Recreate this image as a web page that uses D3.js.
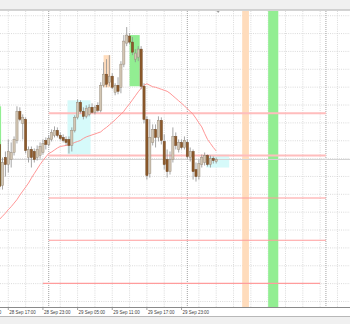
<!DOCTYPE html>
<html><head><meta charset="utf-8">
<script src="https://cdn.jsdelivr.net/npm/d3@7"></script>
<style>html,body{margin:0;padding:0;background:#fff;overflow:hidden}svg{display:block}</style>
</head><body>
<svg id="c" width="350" height="324"></svg>
<script>
// ---- data (M30 bars) ----
const barStart = "2020-09-28T15:30";
const barMinutes = 30;
const open = [1.2165,1.2124,1.2152,1.2145,1.2150,1.2157,1.2169,1.2198,1.2186,1.2190,
 1.2152,1.2160,1.2158,1.2152,1.2154,1.2157,1.2169,1.2165,1.2170,1.2174,
 1.2179,1.2174,1.2172,1.2170,1.2170,1.2164,1.2179,1.2192,1.2207,1.2198,
 1.2193,1.2195,1.2202,1.2197,1.2204,1.2199,1.2224,1.2235,1.2227,1.2233,
 1.2217,1.2224,1.2222,1.2245,1.2266,1.2273,1.2267,1.2250,1.2252,1.2260,
 1.2223,1.2190,1.2136,1.2167,1.2180,1.2172,1.2189,1.2168,1.2150,1.2138,
 1.2150,1.2173,1.2160,1.2167,1.2162,1.2167,1.2152,1.2158,1.2140,1.2133,
 1.2145,1.2147,1.2154,1.2145,1.2151,1.2148];
const high = [1.2170,1.2152,1.2158,1.2170,1.2167,1.2173,1.2203,1.2202,1.2195,1.2192,
 1.2163,1.2163,1.2161,1.2164,1.2167,1.2170,1.2172,1.2174,1.2180,1.2183,
 1.2182,1.2177,1.2175,1.2173,1.2173,1.2182,1.2194,1.2210,1.2209,1.2202,
 1.2204,1.2205,1.2206,1.2204,1.2207,1.2227,1.2247,1.2250,1.2254,1.2236,
 1.2226,1.2232,1.2248,1.2274,1.2282,1.2276,1.2272,1.2260,1.2263,1.2263,
 1.2226,1.2193,1.2190,1.2185,1.2185,1.2193,1.2192,1.2175,1.2160,1.2158,
 1.2182,1.2177,1.2170,1.2170,1.2173,1.2170,1.2162,1.2160,1.2147,1.2150,
 1.2155,1.2157,1.2155,1.2154,1.2153,1.2152];
const low = [1.2120,1.2120,1.2133,1.2137,1.2142,1.2154,1.2166,1.2188,1.2170,1.2156,
 1.2147,1.2142,1.2147,1.2149,1.2151,1.2155,1.2160,1.2163,1.2168,1.2172,
 1.2172,1.2169,1.2167,1.2164,1.2156,1.2158,1.2177,1.2190,1.2196,1.2190,
 1.2191,1.2193,1.2196,1.2195,1.2197,1.2197,1.2222,1.2222,1.2223,1.2220,
 1.2214,1.2215,1.2216,1.2242,1.2263,1.2265,1.2254,1.2247,1.2248,1.2220,
 1.2186,1.2130,1.2132,1.2164,1.2162,1.2168,1.2165,1.2140,1.2132,1.2135,
 1.2147,1.2160,1.2157,1.2160,1.2160,1.2150,1.2148,1.2130,1.2128,1.2130,
 1.2142,1.2144,1.2143,1.2142,1.2146,1.2146];
const close = [1.2123,1.2147,1.2145,1.2158,1.2157,1.2170,1.2198,1.2190,1.2192,1.2159,
 1.2160,1.2152,1.2150,1.2160,1.2163,1.2166,1.2165,1.2171,1.2177,1.2179,
 1.2174,1.2171,1.2169,1.2167,1.2164,1.2179,1.2192,1.2207,1.2198,1.2193,
 1.2201,1.2202,1.2197,1.2202,1.2199,1.2224,1.2235,1.2225,1.2233,1.2222,
 1.2224,1.2218,1.2245,1.2268,1.2274,1.2267,1.2257,1.2256,1.2260,1.2223,
 1.2190,1.2134,1.2172,1.2180,1.2172,1.2189,1.2169,1.2145,1.2138,1.2150,
 1.2173,1.2164,1.2167,1.2162,1.2169,1.2153,1.2158,1.2138,1.2133,1.2146,
 1.2152,1.2154,1.2145,1.2151,1.2149,1.2150];
const maValues = [1.20905,1.20935,1.20965,1.2100,1.2103,1.21065,1.2110,1.21145,1.21185,1.21225,
 1.21265,1.21315,1.2136,1.21405,1.2145,1.2149,1.21525,1.2156,1.21575,1.21595,
 1.21615,1.2163,1.21635,1.2164,1.21645,1.21655,1.2167,1.2168,1.2169,1.2171,
 1.21725,1.21735,1.21745,1.21755,1.21765,1.21775,1.2180,1.2182,1.21845,1.2187,
 1.21895,1.21925,1.2195,1.2198,1.2202,1.22055,1.22095,1.22135,1.22175,1.2221,
 1.2224,1.22255,1.2224,1.22225,1.2222,1.2221,1.2220,1.2219,1.2218,1.2216,
 1.22135,1.2211,1.22085,1.2206,1.22035,1.22005,1.2198,1.2195,1.2191,1.21865,
 1.21825,1.2176,1.2170,1.2166,1.2162,1.21585];
const bidPrice = 1.2150;

// horizontal price levels
const levelPrice = [1.2196, 1.2154, 1.21117, 1.20695, 1.20265];
const levelKind  = ["major","major","minor","minor","minor"];
const levelStart = ["2020-09-29T00:00","2020-09-29T00:00","2020-09-29T00:00","2020-09-29T00:00","2020-09-28T23:00"];
const levelEnd   = ["2020-10-01T00:00","2020-10-01T00:00","2020-10-01T00:00","2020-10-01T00:00","2020-09-30T23:00"];

// session boxes (null price = full height)
const boxSession = ["ny","asia","london","ny","asia","london","ny"];
const boxStart = ["2020-09-28T14:00","2020-09-29T03:15","2020-09-29T09:30","2020-09-29T14:00","2020-09-30T03:15","2020-09-30T09:30","2020-09-30T14:00"];
const boxEnd   = ["2020-09-28T15:45","2020-09-29T07:15","2020-09-29T10:40","2020-09-29T15:45","2020-09-30T07:15","2020-09-30T10:40","2020-09-30T15:45"];
const boxHigh  = [1.2203, 1.2209, 1.2254, 1.2274, 1.2155, null, null];
const boxLow   = [1.2124, 1.2155, 1.2222, 1.2223, 1.2142, null, null];

// axis ticks
const tickTimes = ["2020-09-28T11:00","2020-09-28T17:00","2020-09-28T23:00","2020-09-29T05:00","2020-09-29T11:00","2020-09-29T17:00","2020-09-29T23:00"];
const gridPriceTop = 1.22933, gridPriceStep = 0.00178, gridCount = 17;

// ---- chart ----
const parse = d3.timeParse("%Y-%m-%dT%H:%M");
const fmt = d3.timeFormat("%d %b %H:%M");
const W = 350, H = 324, plotTop = 11, plotBottom = 307.5;
const x = d3.scaleTime().domain([parse("2020-09-28T17:00"), parse("2020-09-29T23:00")]).range([8.3, 181.55]);
const y = d3.scaleLinear().domain([1.20025, 1.2298]).range([plotBottom, plotTop]);
const sessionColor = {asia:"#d6fafa", london:"#ffdcbc", ny:"#92ee92"};

const svg = d3.select("#c");
svg.append("rect").attr("width",W).attr("height",H).attr("fill","#fff");
svg.append("defs").append("clipPath").attr("id","pc").append("rect")
  .attr("x",0).attr("y",plotTop).attr("width",W).attr("height",plotBottom-plotTop);
const g = svg.append("g").attr("clip-path","url(#pc)");

// grid
const hg = d3.range(gridCount).map(k => gridPriceTop - k*gridPriceStep);
g.selectAll(".hg").data(hg).join("line")
  .attr("x1",0).attr("x2",W).attr("y1",d=>y(d)).attr("y2",d=>y(d))
  .attr("stroke","#d2d2d2").attr("stroke-width",0.8).attr("stroke-dasharray","1,1.2");
const vg = d3.timeHour.range(parse("2020-09-28T14:00"), parse("2020-10-01T05:00"), 3);
g.selectAll(".vg").data(vg).join("line")
  .attr("x1",d=>x(d)).attr("x2",d=>x(d)).attr("y1",plotTop).attr("y2",plotBottom)
  .attr("stroke","#d2d2d2").attr("stroke-width",0.8).attr("stroke-dasharray","1,1.2");

// session boxes
const boxes = boxStart.map((s,i)=>({s:parse(s), e:parse(boxEnd[i]), hi:boxHigh[i], lo:boxLow[i], k:boxSession[i]}));
g.selectAll(".box").data(boxes).join("rect")
  .attr("x",d=>x(d.s)).attr("width",d=>x(d.e)-x(d.s))
  .attr("y",d=>d.hi==null?plotTop:y(d.hi))
  .attr("height",d=>d.hi==null?plotBottom-plotTop:y(d.lo)-y(d.hi))
  .attr("fill",d=>sessionColor[d.k]);

// day separators
const days = d3.timeDay.range(parse("2020-09-28T12:00"), parse("2020-10-01T12:00"));
g.selectAll(".ds").data(days).join("line")
  .attr("x1",d=>x(d)).attr("x2",d=>x(d)).attr("y1",plotTop).attr("y2",plotBottom)
  .attr("stroke","#8c8c8c").attr("stroke-width",0.8).attr("stroke-dasharray","1,1");

// bid line
g.append("line").attr("x1",0).attr("x2",W).attr("y1",y(bidPrice)).attr("y2",y(bidPrice))
  .attr("stroke","#d4d4d4").attr("stroke-width",1);

// levels
const levels = levelPrice.map((p,i)=>({p, k:levelKind[i], s:parse(levelStart[i]), e:parse(levelEnd[i])}));
g.selectAll(".lv").data(levels).join("line")
  .attr("x1",d=>x(d.s)).attr("x2",d=>x(d.e)).attr("y1",d=>y(d.p)).attr("y2",d=>y(d.p))
  .attr("stroke",d=>d.k==="major"?"#ffbdbd":"#ff9c9c")
  .attr("stroke-width",d=>d.k==="major"?2:1.1);

// bars
const t0 = parse(barStart);
const bars = open.map((o,i)=>({t:d3.timeMinute.offset(t0,i*barMinutes), o, h:high[i], l:low[i], c:close[i], ma:maValues[i]}));

// moving average
g.append("path").datum(bars)
  .attr("d", d3.line().x(d=>x(d.t)).y(d=>y(d.ma)))
  .attr("fill","none").attr("stroke","#ff8a8a").attr("stroke-width",0.9);

const cg = g.append("g");
cg.selectAll(".wk").data(bars).join("line")
  .attr("x1",d=>x(d.t)).attr("x2",d=>x(d.t)).attr("y1",d=>y(d.h)).attr("y2",d=>y(d.l))
  .attr("stroke","#8f8f8f").attr("stroke-width",0.8);
cg.selectAll(".bd").data(bars).join("rect")
  .attr("x",d=>x(d.t)-1.1).attr("width",2.2)
  .attr("y",d=>y(Math.max(d.o,d.c)))
  .attr("height",d=>Math.max(0.8, Math.abs(y(d.o)-y(d.c))))
  .attr("fill",d=>d.c>=d.o?"#d3c6b3":"#8d5a2b")
  .attr("stroke",d=>d.c>=d.o?"#9a8e7e":"#6f4520").attr("stroke-width",0.5);

// header
svg.append("rect").attr("x",0).attr("y",0).attr("width",W).attr("height",9.5).attr("fill","#f0f0f0");
svg.append("line").attr("x1",0).attr("x2",W).attr("y1",10).attr("y2",10).attr("stroke","#a8a8a8").attr("stroke-width",1);
// chart shift marker
const lastX = x(bars[bars.length-1].t) + 2;
svg.append("path").attr("d",`M${lastX-1.5},11L${lastX+1.5},11L${lastX},13Z`).attr("fill","#9a9a9a");

// footer / time axis
svg.append("line").attr("x1",0).attr("x2",W).attr("y1",plotBottom).attr("y2",plotBottom).attr("stroke","#8a8a8a").attr("stroke-width",1);
svg.append("rect").attr("x",0).attr("y",316.5).attr("width",W).attr("height",8).attr("fill","#f0f0f0");
svg.append("line").attr("x1",0).attr("x2",W).attr("y1",316.5).attr("y2",316.5).attr("stroke","#b8b8b8").attr("stroke-width",1);
const ticks = tickTimes.map(parse);
svg.selectAll(".tk").data(ticks).join("line")
  .attr("x1",d=>x(d)).attr("x2",d=>x(d)).attr("y1",plotBottom).attr("y2",plotBottom+2.5)
  .attr("stroke","#8a8a8a").attr("stroke-width",0.8);
svg.selectAll(".tl").data(ticks).join("text")
  .attr("x",d=>x(d)+1).attr("y",314.3)
  .attr("font-family","Liberation Sans, Arial, sans-serif").attr("font-size",5.3)
  .attr("fill","#404040")
  .attr("textLength",26.5).attr("lengthAdjust","spacingAndGlyphs")
  .text(d=>fmt(d));
</script>
</body></html>
